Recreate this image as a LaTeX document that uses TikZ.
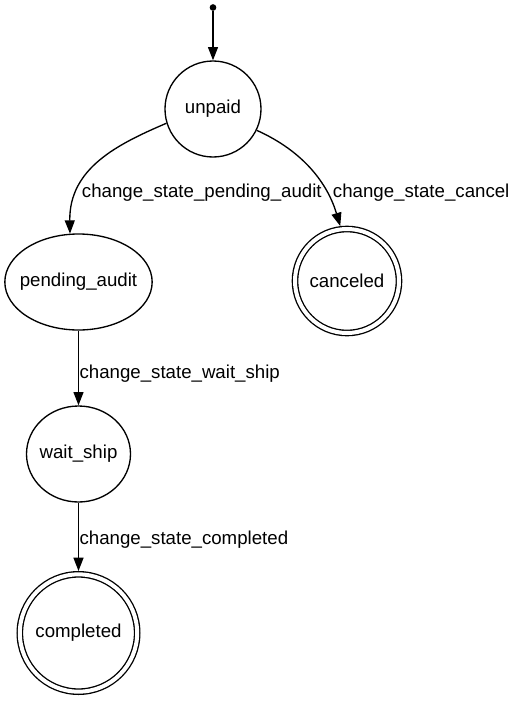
\documentclass[tikz,border=0pt]{standalone}
\usepackage{fontspec}
\setmainfont{Liberation Sans}
\usetikzlibrary{arrows.meta,shapes.geometric}
\newcommand{\zw}[1]{\makebox[0pt]{#1}}
\begin{document}
\begin{tikzpicture}[x=0.75pt,y=-0.75pt,
  every node/.style={font=\fontsize{14}{16.8}\selectfont},
  statecirc/.style={draw,line width=1pt,circle,inner sep=0pt},
  stateell/.style={draw,line width=1pt,ellipse,inner sep=0pt},
  finalstate/.style={draw,line width=1pt,circle,inner sep=0pt,double,double distance=3pt,outer sep=2.5pt},
  edge/.style={draw,line width=1pt,-{Triangle[length=10pt,width=7.5pt]}},
  elabel/.style={anchor=base west,inner sep=0pt}]
\useasboundingbox (0,0) rectangle (514,704);
\node[circle,fill,inner sep=0pt,minimum size=5pt] (start) at (213,7.5) {};
\node[statecirc,minimum size=72pt] (unpaid) at (213,109) {\zw{unpaid}};
\node[stateell,minimum width=110.5pt,minimum height=72pt] (pa) at (78.5,282) {\zw{pending\_audit}};
\node[finalstate,minimum size=78pt] (canceled) at (347,281) {\zw{canceled}};
\node[stateell,minimum width=78pt,minimum height=72pt] (ws) at (78.5,454) {\zw{wait\_ship}};
\node[finalstate,minimum size=88pt] (completed) at (78.5,633) {\zw{completed}};
\draw[edge] (start) -- (unpaid.north);
\draw[edge] (unpaid.197) .. controls (118,144) and (69,168) .. (pa.100);
\draw[edge] (unpaid.334) .. controls (305,152) and (328,185) .. (canceled.97);
\draw[edge] (pa.south) -- (ws.north);
\draw[edge] (ws.south) -- (completed.north);
\node[elabel] (l1) at (81.7,197.3) {change\_state\_pending\_audit};
\node[elabel] (l2) at (332.7,197) {change\_state\_cancel};
\node[elabel] (l3) at (79.3,378.3) {change\_state\_wait\_ship};
\node[elabel] (l4) at (79.3,544) {change\_state\_completed};
\end{tikzpicture}
\end{document}
